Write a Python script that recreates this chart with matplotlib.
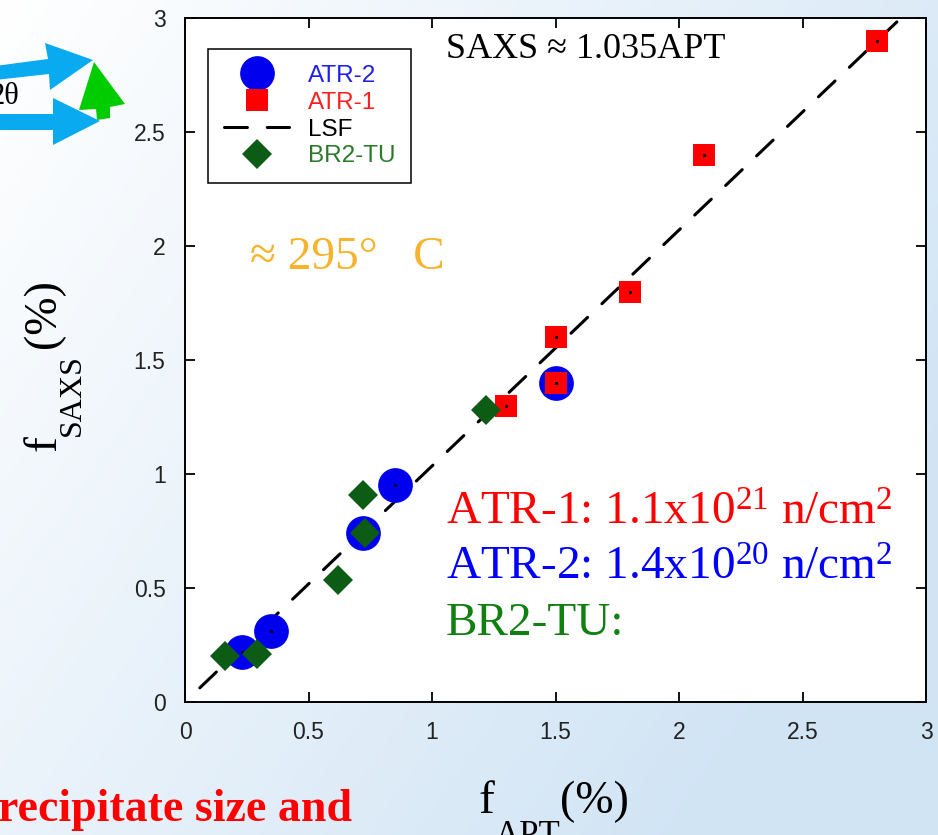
import numpy as np
import matplotlib
matplotlib.use("Agg")
import matplotlib.pyplot as plt
from matplotlib.patches import Polygon

# data
atr2_x = [0.23, 0.35, 0.72, 0.85, 1.50]
atr2_y = [0.22, 0.31, 0.74, 0.95, 1.40]
atr1_x = [1.30, 1.50, 1.50, 1.80, 2.10, 2.80]
atr1_y = [1.30, 1.60, 1.40, 1.80, 2.40, 2.90]
br2_x = [0.16, 0.29, 0.62, 0.72, 0.73, 1.22]
br2_y = [0.20, 0.21, 0.535, 0.91, 0.74, 1.28]
lsf_slope = 1.035
lsf_x = [0.06, 2.92]
ticks = [0, 0.5, 1, 1.5, 2, 2.5, 3]
tick_labels = ["0", "0.5", "1", "1.5", "2", "2.5", "3"]

W, H = 938, 835
plt.rcParams['mathtext.fontset'] = 'custom'
plt.rcParams['mathtext.rm'] = 'Liberation Serif'
plt.rcParams['mathtext.it'] = 'Liberation Serif:italic'
serif = ['Liberation Serif', 'DejaVu Serif']
sans = ['Liberation Sans', 'DejaVu Sans']

def fx(x): return x / W
def fy(y): return 1 - y / H

fig = plt.figure(figsize=(W / 100, H / 100), dpi=100)

# slide background with the cut-off bits on the left
bg = fig.add_axes([0, 0, 1, 1], zorder=0)
gx, gy = np.meshgrid(np.linspace(0, 1, 200), np.linspace(0, 1, 200))
t = np.clip(0.75 * gx + 0.45 * gy, 0, 1)[..., None]
c0 = np.array([1.0, 1.0, 1.0]); c1 = np.array([0.82, 0.895, 0.96])
bg.imshow(c0 * (1 - t) + c1 * t, extent=[0, W, H, 0], aspect='auto')
bg.set_xlim(0, W); bg.set_ylim(H, 0); bg.axis('off')
cyan = '#0aaaf0'
bg.add_patch(Polygon([[-5, 66], [48, 59], [45, 43], [93, 60], [50, 90], [49, 74], [-5, 80]],
                     closed=True, color=cyan, lw=0))
bg.add_patch(Polygon([[-5, 114], [53, 114], [53, 98], [100, 121], [53, 145], [53, 130], [-5, 130]],
                     closed=True, color=cyan, lw=0))
bg.add_patch(Polygon([[94, 62], [125, 104], [110, 107], [110, 118], [97, 120], [96, 109], [79, 110]],
                     closed=True, color='#00cc00', lw=0))
bg.text(19, 97, "2θ", ha='right', va='center', fontsize=22, family=serif, clip_on=False)
bg.text(352, 821, "Precipitate size and", ha='right', va='baseline', fontsize=33,
        family=serif, weight='bold', color='#ff0000')

ax = fig.add_axes([fx(185), fy(702), (926 - 185) / W, (702 - 18) / H], zorder=1)
ax.set_facecolor('white')

lsf_y = [lsf_slope * v for v in lsf_x]
line, = ax.plot(lsf_x, lsf_y, color='black', lw=2.2, dashes=(7.5, 6.5),
                dash_capstyle='round', zorder=2, label='LSF')
blue, = ax.plot(atr2_x, atr2_y, 'o', color='#0000ee', ms=25, mew=0, ls='none', zorder=3, label='ATR-2')
red, = ax.plot(atr1_x, atr1_y, 's', color='#ff0000', ms=16, mew=0, ls='none', zorder=4, label='ATR-1')
ax.plot(atr2_x + atr1_x, atr2_y + atr1_y, '.', color='black', ms=2.5, ls='none', zorder=5)
green, = ax.plot(br2_x, br2_y, 'D', color='#0c5c16', ms=15.5, mew=0, ls='none', zorder=6, label='BR2-TU')

ax.set_xlim(0, 3); ax.set_ylim(0, 3)
ax.set_xticks(ticks); ax.set_yticks(ticks)
ax.set_xticklabels(tick_labels, family=sans, fontsize=16.5, color='#222222')
ax.set_yticklabels(tick_labels, family=sans, fontsize=16.5, color='#222222')
ax.tick_params(direction='in', length=7, width=1.3, top=True, right=True, pad=14)
for s in ax.spines.values():
    s.set_linewidth(1.4)

leg = ax.legend(handles=[blue, red, line, green], loc='upper left',
                bbox_to_anchor=(fx(208), fy(49)), bbox_transform=fig.transFigure,
                borderaxespad=0, fancybox=False, framealpha=1, edgecolor='black',
                prop={'family': sans, 'size': 17.5}, labelspacing=0.2, handlelength=2.7,
                handletextpad=0.75, borderpad=0.65, markerscale=1)
leg.get_frame().set_linewidth(1.1)
for txt, col in zip(leg.get_texts(), ['#2020ee', '#ff2020', 'black', '#2a7a2a']):
    txt.set_color(col)

fig.text(fx(446), fy(58), "SAXS ≈ 1.035APT", fontsize=26, family=serif, va='baseline', zorder=3)
fig.text(fx(250), fy(269), "≈ 295°   C", fontsize=34, family=serif, color='#f7b32b',
         va='baseline', zorder=3)
fig.text(fx(446), fy(525), r"ATR-1: 1.1x10$^{21}$ n/cm$^{2}$", fontsize=34, family=serif,
         color='#ff0000', va='baseline', zorder=3)
fig.text(fx(446), fy(580), r"ATR-2: 1.4x10$^{20}$ n/cm$^{2}$", fontsize=34, family=serif,
         color='#0000ff', va='baseline', zorder=3)
fig.text(fx(446), fy(635), "BR2-TU:", fontsize=34, family=serif, color='#108010',
         va='baseline', zorder=3)

# axis labels built from pieces so the subscripts sit low like the original
lab = dict(family=serif, ha='left', va='baseline', zorder=3)
fig.text(fx(478), fy(813), "f", fontsize=34, **lab)
fig.text(fx(495), fy(845), "APT", fontsize=25, **lab)
fig.text(fx(560), fy(813), "(%)", fontsize=33, **lab)
rot = dict(rotation=90, rotation_mode='anchor', **lab)
fig.text(fx(55), fy(451), "f", fontsize=34, **rot)
fig.text(fx(80), fy(436), "SAXS", fontsize=23, **rot)
fig.text(fx(55), fy(348), "(%)", fontsize=33, **rot)

fig.savefig("out.png", dpi=100)
